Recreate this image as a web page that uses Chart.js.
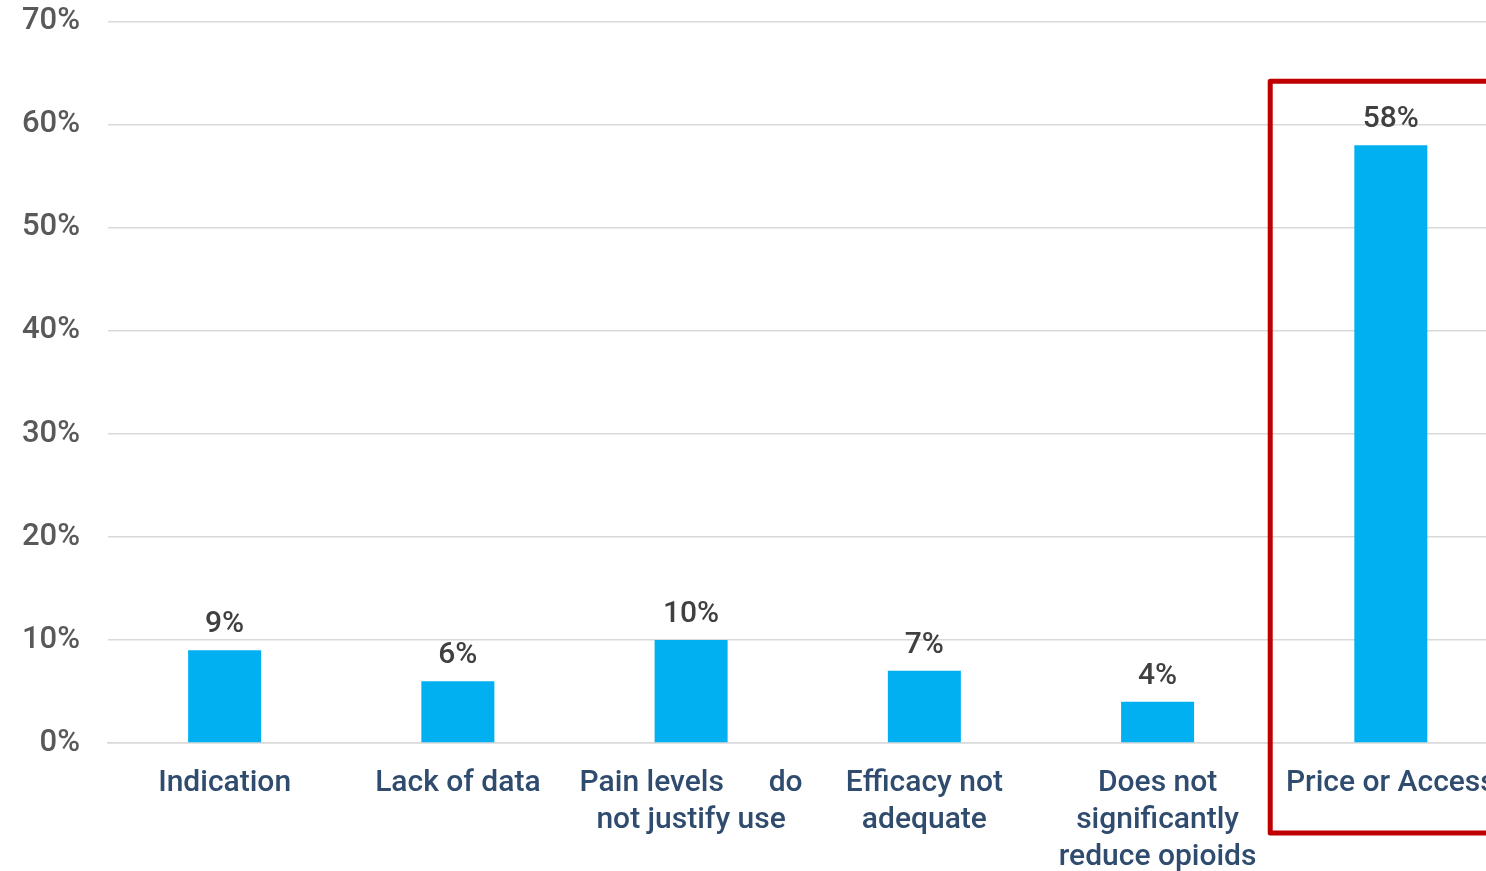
<!DOCTYPE html>
<html>
<head>
<meta charset="utf-8">
<script src="https://cdn.jsdelivr.net/npm/chart.js@4.4.1/dist/chart.umd.min.js"></script>
<style>
  html, body { margin: 0; padding: 0; background: #fff; overflow: hidden; }
  #wrap { position: relative; width: 1518px; height: 893px; margin-top: -22px; }
</style>
</head>
<body>
<div id="wrap"><canvas id="reasonsChart"></canvas></div>
<script>
// chart data
const categories = [
  'Indication',
  'Lack of data',
  ['Pain levels      do', 'not justify use'],
  ['Efficacy not', 'adequate'],
  ['Does not', 'significantly', 'reduce opioids'],
  'Price or Access'
];
const percentValues = [9, 6, 10, 7, 4, 58];
const yTicks = [0, 10, 20, 30, 40, 50, 60, 70];
const highlightIndex = 5;

const FONT = 'Roboto, "Liberation Sans", Arial, sans-serif';

// value labels above bars
const barLabels = {
  id: 'barLabels',
  afterDatasetsDraw(chart) {
    const ctx = chart.ctx;
    const meta = chart.getDatasetMeta(0);
    ctx.save();
    ctx.font = '500 30px ' + FONT;
    ctx.fillStyle = '#404040';
    ctx.textAlign = 'center';
    ctx.textBaseline = 'alphabetic';
    meta.data.forEach((bar, i) => {
      ctx.fillText(percentValues[i] + '%', bar.x, bar.y - 18);
    });
    ctx.restore();
  }
};

// red frame round the highlighted category
const highlightBox = {
  id: 'highlightBox',
  afterDraw(chart) {
    const ctx = chart.ctx;
    const x = chart.scales.x;
    const y = chart.scales.y;
    const half = (x.getPixelForValue(1) - x.getPixelForValue(0)) / 2;
    const left = x.getPixelForValue(highlightIndex) - half - 4;
    const top = y.getPixelForValue(64.2);
    const bottom = chart.height - 38;
    const right = chart.width + 20;
    ctx.save();
    ctx.strokeStyle = '#C00000';
    ctx.lineWidth = 5;
    ctx.lineJoin = 'round';
    ctx.strokeRect(left, top, right - left, bottom - top);
    ctx.restore();
  }
};

new Chart(document.getElementById('reasonsChart'), {
  type: 'bar',
  data: {
    labels: categories,
    datasets: [{
      data: percentValues,
      backgroundColor: '#00B0F0',
      categoryPercentage: 1,
      barPercentage: 0.313
    }]
  },
  options: {
    responsive: true,
    maintainAspectRatio: false,
    animation: false,
    layout: { padding: { top: 0, right: 3, bottom: 0, left: 0 } },
    plugins: { legend: { display: false }, tooltip: { enabled: false } },
    scales: {
      x: {
        grid: { display: false, drawTicks: false },
        border: { display: true, color: '#D9D9D9', width: 1.5 },
        ticks: {
          color: '#2F4B6E',
          font: { family: FONT, size: 30, weight: '500', lineHeight: 1.23 },
          padding: 22,
          maxRotation: 0,
          autoSkip: false
        },
        afterFit(scale) { scale.height = 128; }
      },
      y: {
        min: 0,
        max: 70,
        afterBuildTicks(scale) { scale.ticks = yTicks.map(v => ({ value: v })); },
        grid: { color: '#D9D9D9', lineWidth: 1.5, drawTicks: false },
        border: { display: false },
        ticks: {
          color: '#595959',
          font: { family: FONT, size: 31, weight: '500', lineHeight: 1.0 },
          padding: 28,
          callback: v => v + '%'
        },
        afterFit(scale) { scale.width = 108; }
      }
    }
  },
  plugins: [barLabels, highlightBox]
});
</script>
</body>
</html>
